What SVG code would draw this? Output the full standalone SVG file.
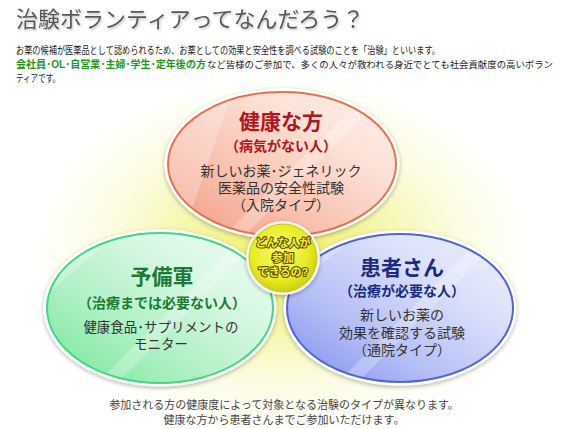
<svg xmlns="http://www.w3.org/2000/svg" width="565" height="429" viewBox="0 0 565 429">
<style>
text{font-family:"Liberation Sans","Noto Sans CJK JP",sans-serif}
.title{font-size:22px;fill:#585858;filter:url(#tshadow)}
.para{font-size:10px;fill:#222}
.green{fill:#1a9a1a;font-weight:bold}
.head{font-size:21px;font-weight:bold;text-anchor:middle}
.sub{font-size:14px;font-weight:bold;text-anchor:middle}
.body{font-size:14px;text-anchor:middle;fill:#333}
.red{fill:#b3151c}
.grn{fill:#1d7a34}
.blu{fill:#1b2a82}
.center{font-size:11px;font-weight:bold;text-anchor:middle;fill:#f4ee3a;stroke:#5c5200;stroke-width:2.2px;paint-order:stroke;stroke-linejoin:round}
.foot{font-size:11px;fill:#444;text-anchor:middle}
.rim{fill:none;stroke:#fff;stroke-width:5}
</style>
<defs>
<filter id="tshadow" x="-5%" y="-30%" width="110%" height="160%">
<feDropShadow dx="1" dy="1.5" stdDeviation="0.8" flood-color="#000" flood-opacity="0.25"/>
</filter>
<filter id="shadow" x="-10%" y="-10%" width="120%" height="125%">
<feDropShadow dx="0" dy="1.5" stdDeviation="2" flood-color="#000" flood-opacity="0.3"/>
</filter>
<radialGradient id="glow" cx="283" cy="255" r="250" gradientUnits="userSpaceOnUse" gradientTransform="translate(283 255) scale(1 0.72) translate(-283 -255)">
<stop offset="0" stop-color="#eef060"/>
<stop offset="0.35" stop-color="#f4f6a0"/>
<stop offset="0.7" stop-color="#fbfce0"/>
<stop offset="1" stop-color="#ffffff"/>
</radialGradient>
<linearGradient id="gRed" x1="0" y1="1" x2="1" y2="0">
<stop offset="0" stop-color="#f49a82"/>
<stop offset="0.35" stop-color="#f8c0ae"/>
<stop offset="0.7" stop-color="#fde2d8"/>
<stop offset="1" stop-color="#fff0ea"/>
</linearGradient>
<linearGradient id="gGrn" x1="0" y1="1" x2="1" y2="0">
<stop offset="0" stop-color="#72e698"/>
<stop offset="0.35" stop-color="#aef0c4"/>
<stop offset="0.7" stop-color="#daf8e4"/>
<stop offset="1" stop-color="#eefcf2"/>
</linearGradient>
<linearGradient id="gBlu" x1="0" y1="1" x2="1" y2="0">
<stop offset="0" stop-color="#7d8cee"/>
<stop offset="0.35" stop-color="#b6c0f6"/>
<stop offset="0.7" stop-color="#dde2fb"/>
<stop offset="1" stop-color="#eef0fd"/>
</linearGradient>
<radialGradient id="gYel" cx="0.45" cy="0.4" r="0.6">
<stop offset="0" stop-color="#fafa70"/>
<stop offset="0.7" stop-color="#e8ec20"/>
<stop offset="1" stop-color="#ccd010"/>
</radialGradient>
<clipPath id="cRed"><ellipse cx="282" cy="164" rx="114" ry="72"/></clipPath>
<clipPath id="cGrn"><ellipse cx="160" cy="308" rx="113" ry="75"/></clipPath>
<clipPath id="cBlu"><ellipse cx="400" cy="308" rx="113" ry="74"/></clipPath>
</defs>

<rect width="565" height="429" fill="#fff"/>
<ellipse cx="283" cy="250" rx="260" ry="180" fill="url(#glow)"/>

<g id="header">
<text class="title" x="16" y="27">治験ボランティアってなんだろう？</text>
<text class="para" x="16" y="54" textLength="424" lengthAdjust="spacingAndGlyphs">お薬の候補が医薬品として認められるため、お薬としての効果と安全性を調べる試験のことを「治験」といいます。</text>
<text class="para green" x="16" y="68" textLength="190" lengthAdjust="spacingAndGlyphs">会社員･OL･自営業･主婦･学生･定年後の方</text>
<text class="para" x="207" y="68" style="font-size:9.2px" textLength="346" lengthAdjust="spacingAndGlyphs">など皆様のご参加で、多くの人々が救われる身近でとても社会貢献度の高いボラン</text>
<text class="para" x="16" y="82" textLength="44" lengthAdjust="spacingAndGlyphs">ティアです。</text>
</g>

<g id="node-healthy">
<ellipse class="rim" cx="282" cy="164" rx="115" ry="73" filter="url(#shadow)"/>
<ellipse cx="282" cy="164" rx="114" ry="72" fill="url(#gRed)"/>
<g clip-path="url(#cRed)" fill="#fff" fill-opacity="0.25">
<polygon points="160,300 400,60 420,60 180,300"/>
<polygon points="160,300 230,100 160,100"/>
</g>
<ellipse cx="282" cy="164" rx="114" ry="72" fill="none" stroke="#e8704e" stroke-width="2"/>
<text class="head red" x="281" y="129">健康な方</text>
<text class="sub red" x="281" y="151">（病気がない人）</text>
<text class="body" x="281" y="176">新しいお薬･ジェネリック<tspan x="281" dy="17">医薬品の安全性試験</tspan><tspan x="281" dy="17">（入院タイプ）</tspan></text>
</g>

<g id="node-reserve">
<ellipse class="rim" cx="160" cy="308" rx="114" ry="76" filter="url(#shadow)"/>
<ellipse cx="160" cy="308" rx="113" ry="75" fill="url(#gGrn)"/>
<g clip-path="url(#cGrn)" fill="#fff" fill-opacity="0.25">
<polygon points="40,440 280,200 300,200 60,440"/>
<polygon points="40,300 110,240 40,240"/>
</g>
<ellipse cx="160" cy="308" rx="113" ry="75" fill="none" stroke="#3ed884" stroke-width="2"/>
<text class="head grn" x="162" y="284">予備軍</text>
<text class="sub grn" x="162" y="308">（治療までは必要ない人）</text>
<text class="body" x="161" y="332" style="font-size:13.5px">健康食品･サプリメントの<tspan x="161" dy="16.5">モニター</tspan></text>
</g>

<g id="node-patient">
<ellipse class="rim" cx="400" cy="308" rx="114" ry="75" filter="url(#shadow)"/>
<ellipse cx="400" cy="308" rx="113" ry="74" fill="url(#gBlu)"/>
<g clip-path="url(#cBlu)" fill="#fff" fill-opacity="0.25">
<polygon points="280,440 520,200 540,200 300,440"/>
<polygon points="280,300 350,240 280,240"/>
</g>
<ellipse cx="400" cy="308" rx="113" ry="74" fill="none" stroke="#5364d8" stroke-width="2"/>
<text class="head blu" x="402" y="275">患者さん</text>
<text class="sub blu" x="402" y="296">（治療が必要な人）</text>
<text class="body" x="402" y="320">新しいお薬の<tspan x="402" dy="18">効果を確認する試験</tspan><tspan x="402" dy="17">（通院タイプ）</tspan></text>
</g>

<g id="node-center">
<circle cx="283" cy="258" r="37" fill="#f4f4ea" filter="url(#shadow)"/>
<circle cx="283" cy="258" r="34" fill="url(#gYel)" stroke="#c8c820" stroke-width="1"/>
<text class="center" x="283" y="247">どんな人が<tspan x="283" dy="15">参加</tspan><tspan x="283" dy="14">できるの?</tspan></text>
</g>

<g id="footer">
<text class="foot" x="284" y="409">参加される方の健康度によって対象となる治験のタイプが異なります。<tspan x="284" dy="15">健康な方から患者さんまでご参加いただけます。</tspan></text>
</g>
</svg>
